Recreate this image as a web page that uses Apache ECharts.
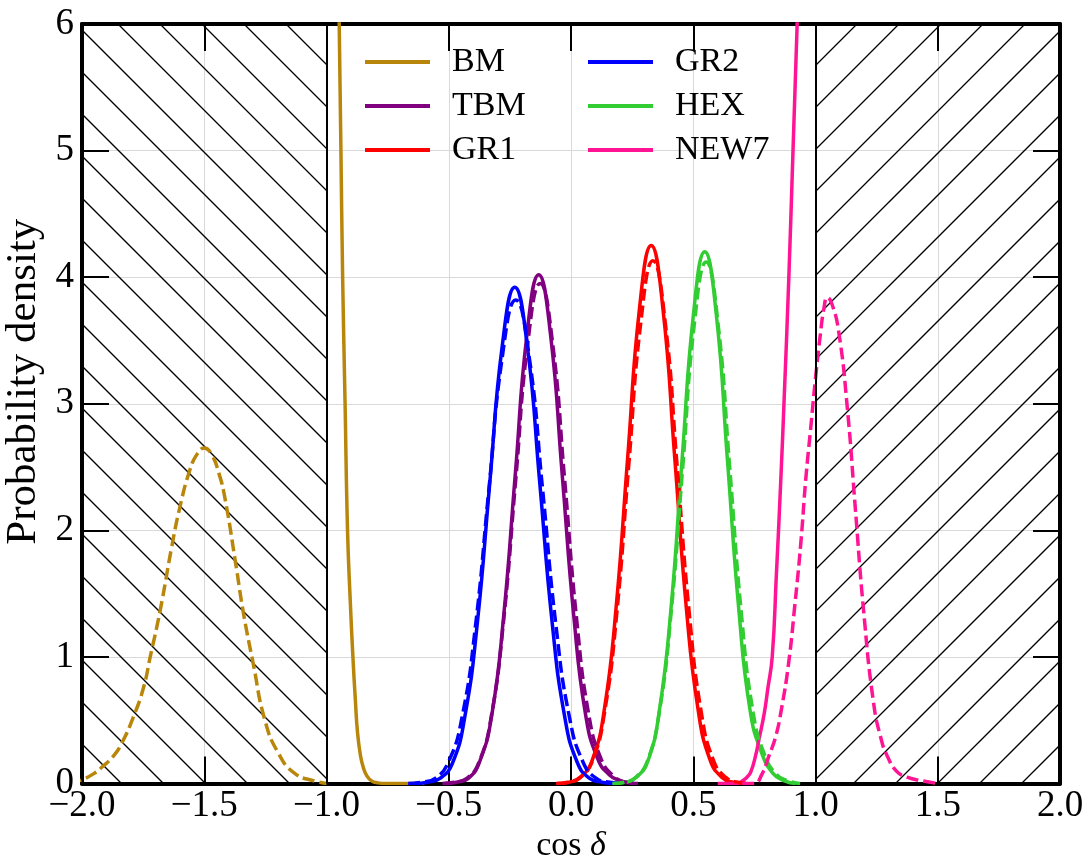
<!DOCTYPE html>
<html>
<head>
<meta charset="utf-8">
<title>cos delta probability density</title>
<script src="https://cdn.jsdelivr.net/npm/echarts/dist/echarts.min.js"></script>
<style>
  html, body { margin: 0; padding: 0; background: #fff; }
  #chart { width: 1089px; height: 867px; }
</style>
</head>
<body>
<div id="chart"></div>
<script>
// values, [cos delta, density]
const bmSolid = [[-0.952, 6.6], [-0.948, 6.0], [-0.941, 5.0], [-0.934, 4.0], [-0.924, 3.0], [-0.914, 2.0],
  [-0.903, 1.45], [-0.892, 1.0], [-0.882, 0.66], [-0.873, 0.40], [-0.861, 0.22], [-0.850, 0.13],
  [-0.835, 0.06], [-0.815, 0.02], [-0.790, 0.005], [-0.760, 0.0], [-0.600, 0.0]];
const bmDashed = [[-2.05, 0.0], [-2.0, 0.03], [-1.95, 0.08], [-1.918, 0.13], [-1.87, 0.22], [-1.837, 0.32],
  [-1.789, 0.53], [-1.748, 0.76], [-1.721, 1.0], [-1.68, 1.37], [-1.633, 1.87], [-1.60, 2.18],
  [-1.56, 2.47], [-1.53, 2.6], [-1.50, 2.65], [-1.47, 2.6], [-1.44, 2.45], [-1.415, 2.25],
  [-1.374, 1.77], [-1.34, 1.35], [-1.30, 0.95], [-1.252, 0.5], [-1.197, 0.24], [-1.13, 0.08],
  [-1.05, 0.02], [-1.0, 0.0]];
const tbmSolid = [[-0.516, 0.0], [-0.468, 0.01], [-0.420, 0.04], [-0.372, 0.18], [-0.324, 0.54], [-0.276, 1.31],
  [-0.228, 2.44], [-0.180, 3.55], [-0.132, 4.02], [-0.084, 3.55], [-0.036, 2.44], [0.012, 1.31],
  [0.060, 0.54], [0.108, 0.2], [0.156, 0.07], [0.204, 0.02], [0.252, 0.0]];
const tbmDashed = [[-0.526, 0.0], [-0.476, 0.01], [-0.426, 0.04], [-0.376, 0.17], [-0.326, 0.53], [-0.276, 1.28],
  [-0.226, 2.40], [-0.176, 3.49], [-0.126, 3.95], [-0.076, 3.49], [-0.026, 2.40], [0.024, 1.28],
  [0.074, 0.53], [0.124, 0.19], [0.174, 0.06], [0.224, 0.01], [0.274, 0.0]];
const gr1Solid = [[-0.056, 0.0], [-0.008, 0.01], [0.040, 0.05], [0.088, 0.19], [0.136, 0.58], [0.184, 1.38],
  [0.232, 2.58], [0.280, 3.75], [0.328, 4.25], [0.376, 3.75], [0.424, 2.58], [0.472, 1.38],
  [0.520, 0.58], [0.568, 0.19], [0.616, 0.05], [0.664, 0.01], [0.712, 0.0]];
const gr1Dashed = [[-0.061, 0.0], [-0.012, 0.01], [0.038, 0.05], [0.088, 0.18], [0.137, 0.56], [0.187, 1.34],
  [0.236, 2.51], [0.286, 3.65], [0.335, 4.13], [0.385, 3.65], [0.434, 2.51], [0.484, 1.34],
  [0.533, 0.56], [0.583, 0.18], [0.632, 0.05], [0.682, 0.01], [0.731, 0.0]];
const gr2Solid = [[-0.638, 0.0], [-0.587, 0.01], [-0.536, 0.04], [-0.485, 0.16], [-0.434, 0.53], [-0.383, 1.27],
  [-0.332, 2.38], [-0.281, 3.46], [-0.230, 3.92], [-0.179, 3.46], [-0.128, 2.38], [-0.077, 1.27],
  [-0.026, 0.53], [0.025, 0.17], [0.076, 0.04], [0.127, 0.01], [0.178, 0.0]];
const gr2Dashed = [[-0.666, 0.0], [-0.611, 0.01], [-0.556, 0.04], [-0.501, 0.17], [-0.446, 0.52], [-0.391, 1.24],
  [-0.336, 2.32], [-0.281, 3.37], [-0.226, 3.82], [-0.171, 3.37], [-0.116, 2.32], [-0.061, 1.24],
  [-0.006, 0.52], [0.049, 0.17], [0.104, 0.04], [0.159, 0.01], [0.214, 0.0]];
const hexSolid = [[0.175, 0.0], [0.222, 0.01], [0.268, 0.05], [0.315, 0.18], [0.361, 0.57], [0.408, 1.36],
  [0.454, 2.55], [0.501, 3.71], [0.547, 4.20], [0.594, 3.71], [0.640, 2.55], [0.687, 1.36],
  [0.733, 0.57], [0.780, 0.24], [0.826, 0.08], [0.873, 0.02], [0.919, 0.0]];
const hexDashed = [[0.169, 0.0], [0.217, 0.01], [0.265, 0.05], [0.313, 0.18], [0.361, 0.56], [0.409, 1.34],
  [0.457, 2.50], [0.505, 3.64], [0.553, 4.12], [0.601, 3.64], [0.649, 2.50], [0.697, 1.34],
  [0.745, 0.56], [0.793, 0.22], [0.841, 0.07], [0.889, 0.02], [0.937, 0.0]];
const new7Solid = [[0.60, 0.0], [0.68, 0.0], [0.70, 0.02], [0.72, 0.05], [0.735, 0.09], [0.755, 0.22],
  [0.77, 0.36], [0.79, 0.55], [0.805, 0.75], [0.823, 1.0], [0.84, 1.65], [0.857, 2.35], [0.871, 3.0],
  [0.891, 4.0], [0.908, 5.0], [0.925, 6.0], [0.935, 6.6]];
const new7Dashed = [[0.70, 0.0], [0.75, 0.0], [0.78, 0.07], [0.81, 0.22], [0.837, 0.37], [0.86, 0.58],
  [0.89, 0.95], [0.915, 1.4], [0.94, 1.9], [0.96, 2.4], [0.98, 2.8], [1.0, 3.2], [1.02, 3.55],
  [1.035, 3.76], [1.048, 3.84], [1.065, 3.8], [1.094, 3.58], [1.13, 2.97], [1.163, 2.17],
  [1.197, 1.36], [1.238, 0.63], [1.27, 0.34], [1.293, 0.22], [1.33, 0.1], [1.374, 0.05],
  [1.44, 0.02], [1.5, 0.0]];

// excluded ranges of cos delta, [from, to, hatch direction]
const hatchRegions = [[-2, -1, 1], [1, 2, -1]];

const legendLeft = ["BM", "TBM", "GR1"];
const legendRight = ["GR2", "HEX", "NEW7"];

const X_MIN = -2, X_MAX = 2, X_STEP = 0.5;
const Y_MIN = 0, Y_MAX = 6, Y_STEP = 1;

const FONT = "Liberation Serif";
const hatch = { spacing: 42, phaseBack: 36, phaseFwd: 38, width: 1.3 };

function curve(name, data, color, dashed) {
  return {
    name: name,
    type: "line",
    data: data,
    smooth: 0.5,
    symbol: "none",
    showSymbol: false,
    clip: true,
    z: dashed ? 4 : 3,
    itemStyle: { color: color },
    lineStyle: { color: color, width: 3.5, type: dashed ? [12, 5] : "solid" }
  };
}

// hatch lines inside a region, clipped to it
function renderHatch(params, api) {
  var a = api.coord([api.value(0), Y_MAX]);
  var b = api.coord([api.value(1), Y_MIN]);
  var dir = api.value(2);
  var L = a[0], T = a[1], B = b[1];
  var w = b[0] - a[0], h = B - T;
  var step = hatch.spacing;
  var phase = dir > 0 ? hatch.phaseBack : hatch.phaseFwd;
  var kids = [];
  for (var c = phase - Math.ceil((h + phase) / step) * step; c < w; c += step) {
    var t0 = Math.max(0, -c), t1 = Math.min(h, w - c);
    if (t1 <= t0) continue;
    var y0 = dir > 0 ? T + t0 : B - t0;
    var y1 = dir > 0 ? T + t1 : B - t1;
    kids.push({
      type: "line",
      shape: { x1: L + c + t0, y1: y0, x2: L + c + t1, y2: y1 },
      style: { stroke: "#000", lineWidth: hatch.width }
    });
  }
  return { type: "group", children: kids };
}

function fmtX(v) {
  return (v < 0 ? "\u2212" : "") + Math.abs(v).toFixed(1);
}

const chart = echarts.init(document.getElementById("chart"));

const legendBase = {
  orient: "vertical",
  top: 42,
  icon: "rect",
  itemWidth: 65,
  itemHeight: 4,
  itemGap: 4,
  padding: 0,
  textStyle: { fontFamily: FONT, fontSize: 34, color: "#000", lineHeight: 40, padding: [0, 0, 0, 17] }
};

const tickStyle = { show: true, inside: true, length: 27, lineStyle: { color: "#000", width: 2 } };
const lineStyleAxis = { show: true, onZero: false, lineStyle: { color: "#000", width: 4 } };
const gridLine = { show: true, lineStyle: { color: "#d9d9d9", width: 1 } };

chart.setOption({
  animation: false,
  backgroundColor: "#fff",
  grid: { left: 82, right: 29, top: 24, bottom: 83.5, containLabel: false, outerBoundsMode: "none" },
  legend: [
    Object.assign({}, legendBase, { left: 365, data: legendLeft }),
    Object.assign({}, legendBase, { left: 588, data: legendRight })
  ],
  xAxis: [
    {
      type: "value", min: X_MIN, max: X_MAX, interval: X_STEP, position: "bottom",
      name: "cos {i|\u03b4}", nameLocation: "middle", nameGap: 44,
      nameTextStyle: { fontFamily: FONT, fontSize: 34, color: "#000",
        rich: { i: { fontFamily: FONT, fontSize: 34, fontStyle: "italic", color: "#000" } } },
      axisLine: lineStyleAxis, axisTick: tickStyle, splitLine: gridLine,
      axisLabel: { formatter: fmtX, fontFamily: FONT, fontSize: 37, color: "#000", margin: 4,
        showMinLabel: true, showMaxLabel: true }
    },
    {
      type: "value", min: X_MIN, max: X_MAX, interval: X_STEP, position: "top",
      axisLine: lineStyleAxis, axisTick: tickStyle, splitLine: { show: false },
      axisLabel: { show: false }
    }
  ],
  yAxis: [
    {
      type: "value", min: Y_MIN, max: Y_MAX, interval: Y_STEP, position: "left",
      name: "Probability density", nameLocation: "middle", nameGap: 37, nameMoveOverlap: false,
      nameTextStyle: { fontFamily: FONT, fontSize: 43, color: "#000", padding: [12, 0, 0, 44] },
      axisLine: lineStyleAxis, axisTick: tickStyle, splitLine: gridLine,
      axisLabel: { fontFamily: FONT, fontSize: 37, color: "#000", margin: 8 }
    },
    {
      type: "value", min: Y_MIN, max: Y_MAX, interval: Y_STEP, position: "right",
      axisLine: lineStyleAxis, axisTick: tickStyle, splitLine: { show: false },
      axisLabel: { show: false }
    }
  ],
  series: [
    {
      name: "excluded",
      type: "custom",
      renderItem: renderHatch,
      data: hatchRegions,
      encode: { x: [0, 1] },
      clip: true,
      silent: true,
      z: 1,
      markLine: {
        silent: true, symbol: "none", label: { show: false },
        lineStyle: { color: "#000", width: 2, type: "solid" },
        data: [{ xAxis: hatchRegions[0][1] }, { xAxis: hatchRegions[1][0] }]
      }
    },
    curve("BM", bmSolid, "#b8860b", false),
    curve("TBM", tbmSolid, "#800080", false),
    curve("GR1", gr1Solid, "#ff0000", false),
    curve("GR2", gr2Solid, "#0000ff", false),
    curve("HEX", hexSolid, "#32cd32", false),
    curve("NEW7", new7Solid, "#ff1493", false),
    curve("BM dashed", bmDashed, "#b8860b", true),
    curve("TBM dashed", tbmDashed, "#800080", true),
    curve("GR1 dashed", gr1Dashed, "#ff0000", true),
    curve("GR2 dashed", gr2Dashed, "#0000ff", true),
    curve("HEX dashed", hexDashed, "#32cd32", true),
    curve("NEW7 dashed", new7Dashed, "#ff1493", true)
  ]
});
</script>
</body>
</html>
